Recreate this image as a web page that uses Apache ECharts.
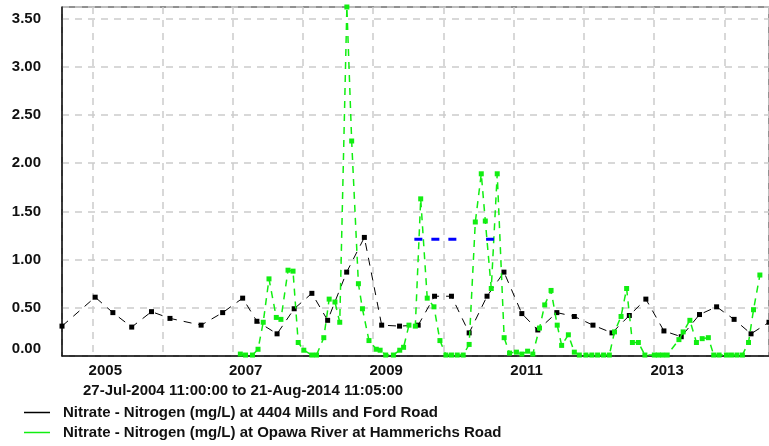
<!DOCTYPE html>
<html>
<head>
<meta charset="utf-8">
<script src="https://cdn.jsdelivr.net/npm/echarts@6/dist/echarts.min.js"></script>
<style>
  html, body { margin: 0; padding: 0; background: #fff; }
  #chart { width: 769px; height: 446px; }
</style>
</head>
<body>
<div id="chart"></div>
<script>
// 4404 Mills and Ford Road
const millsDates = [
  '2004-07-27 11:00:00', '2005-01-16', '2005-04-18', '2005-07-25', '2005-11-05',
  '2006-02-09', '2006-07-21', '2006-11-10', '2007-02-22', '2007-05-07',
  '2007-08-20', '2007-11-17', '2008-02-17', '2008-05-09', '2008-08-16',
  '2008-11-16', '2009-02-14', '2009-05-18', '2009-08-23', '2009-11-16',
  '2010-02-12', '2010-05-15', '2010-08-16', '2010-11-12', '2011-02-13',
  '2011-05-07', '2011-08-14', '2011-11-13', '2012-02-18', '2012-05-27',
  '2012-08-25', '2012-11-19', '2013-02-21', '2013-05-22', '2013-08-25',
  '2013-11-22', '2014-02-21', '2014-05-20', '2014-08-21 11:05:00'
]
const millsValues = [
  0.31, 0.61, 0.45, 0.30, 0.46,
  0.39, 0.32, 0.45, 0.60, 0.36,
  0.23, 0.49, 0.65, 0.37, 0.87,
  1.23, 0.32, 0.31, 0.32, 0.62,
  0.62, 0.24, 0.62, 0.87, 0.44,
  0.27, 0.45, 0.41, 0.32, 0.24,
  0.42, 0.59, 0.26, 0.20, 0.43,
  0.51, 0.38, 0.23, 0.35
]

// Opawa River at Hammerichs Road
const opawaDates = [
  '2007-02-10', '2007-03-09', '2007-04-14', '2007-05-13', '2007-06-09',
  '2007-07-09', '2007-08-16', '2007-09-09', '2007-10-16', '2007-11-11',
  '2007-12-08', '2008-01-06', '2008-02-17', '2008-03-12', '2008-04-19',
  '2008-05-17', '2008-06-16', '2008-07-11', '2008-08-17', '2008-09-11',
  '2008-10-16', '2008-11-06', '2008-12-10', '2009-01-17', '2009-02-06',
  '2009-03-07', '2009-04-16', '2009-05-19', '2009-06-08', '2009-07-06',
  '2009-08-08', '2009-09-05', '2009-10-09', '2009-11-13', '2009-12-14',
  '2010-01-14', '2010-02-12', '2010-03-14', '2010-04-14', '2010-05-15',
  '2010-06-16', '2010-07-17', '2010-08-07', '2010-09-07', '2010-10-08',
  '2010-11-13', '2010-12-11', '2011-01-16', '2011-02-13', '2011-03-15',
  '2011-04-11', '2011-05-16', '2011-06-12', '2011-07-15', '2011-08-16',
  '2011-09-08', '2011-10-13', '2011-11-13', '2011-12-09', '2012-01-12',
  '2012-02-12', '2012-03-13', '2012-04-13', '2012-05-13', '2012-06-09',
  '2012-07-13', '2012-08-11', '2012-09-10', '2012-10-11', '2012-11-14',
  '2013-01-02', '2013-01-23', '2013-02-14', '2013-03-10', '2013-05-10',
  '2013-06-01', '2013-07-06', '2013-08-09', '2013-09-08', '2013-10-10',
  '2013-11-07', '2013-12-05', '2014-01-12', '2014-02-07', '2014-03-08',
  '2014-04-05', '2014-05-07', '2014-06-02', '2014-07-05'
]
const opawaValues = [
  0.02, 0.01, 0.01, 0.07, 0.35,
  0.80, 0.40, 0.38, 0.89, 0.88,
  0.14, 0.06, 0.01, 0.01, 0.19,
  0.59, 0.56, 0.35, 3.62, 2.23,
  0.75, 0.49, 0.16, 0.07, 0.06,
  0.01, 0.01, 0.06, 0.09, 0.32,
  0.31, 1.63, 0.60, 0.51, 0.16,
  0.01, 0.01, 0.01, 0.01, 0.12,
  1.39, 1.89, 1.40, 0.70, 1.89,
  0.19, 0.03, 0.04, 0.02, 0.05,
  0.02, 0.29, 0.53, 0.68, 0.32,
  0.11, 0.22, 0.04, 0.01, 0.01,
  0.01, 0.01, 0.01, 0.01, 0.25,
  0.41, 0.70, 0.14, 0.14, 0.01,
  0.01, 0.01, 0.01, 0.01, 0.17,
  0.25, 0.37, 0.14, 0.18, 0.19,
  0.01, 0.01, 0.01, 0.01, 0.01,
  0.01, 0.14, 0.48, 0.84
]

// blue dashed guide line (null breaks the segment)
const guideDates = ['2009-08-03', '2010-03-11', '2010-05-01', '2010-08-11', '2010-09-21']
const guideValues = [1.21, 1.21, null, 1.21, 1.21]

const rangeStart = '2004-07-27 11:00:00'
const rangeEnd = '2014-08-21 11:05:00'
const rangeLabel = '27-Jul-2004 11:00:00 to 21-Aug-2014 11:05:00'
const seriesNames = [
  'Nitrate - Nitrogen (mg/L) at 4404 Mills and Ford Road',
  'Nitrate - Nitrogen (mg/L) at Opawa River at Hammerichs Road'
]

const FONT = '"Liberation Sans", Arial, sans-serif'
const YEAR_MS = 365 * 24 * 3600 * 1000

const zip = (xs, ys) => xs.map((x, i) => [x, ys[i]])

const chart = echarts.init(document.getElementById('chart'), null, { renderer: 'canvas' })

const option = {
  backgroundColor: '#fff',
  animation: false,
  grid: {
    left: 62,
    top: 7,
    right: -3,
    bottom: 90,
    show: true,
    borderColor: '#222',
    borderWidth: 1,
    backgroundColor: '#fff',
  },
  title: {
    text: rangeLabel,
    left: 78,
    top: 378,
    textStyle: { fontFamily: FONT, fontSize: 15, fontWeight: 'bold', color: '#111' },
  },
  legend: {
    orient: 'vertical',
    left: 24,
    top: 405,
    padding: 0,
    itemGap: 5,
    itemWidth: 26,
    itemHeight: 1.5,
    icon: 'rect',
    data: seriesNames,
    textStyle: { fontFamily: FONT, fontSize: 15, fontWeight: 'bold', color: '#111', padding: [0, 0, 0, 8] },
  },
  xAxis: {
    type: 'time',
    min: rangeStart,
    max: rangeEnd,
    minInterval: YEAR_MS,
    maxInterval: YEAR_MS + 24 * 3600 * 1000,
    axisLine: { lineStyle: { color: '#111', width: 1.5 } },
    axisTick: { show: false },
    axisLabel: {
      fontFamily: FONT,
      fontSize: 15,
      fontWeight: 'bold',
      color: '#111',
      margin: 7,
      padding: [0, 0, 0, 26],
      showMinLabel: false,
      showMaxLabel: false,
      formatter: v => {
        const y = new Date(v).getFullYear()
        return y % 2 === 1 ? String(y) : ''
      },
    },
    splitLine: { show: true, lineStyle: { color: '#cccccc', width: 1.5, type: [7, 6] } },
  },
  yAxis: {
    type: 'value',
    min: 0,
    max: 3.62,
    interval: 0.5,
    axisLine: { show: true, lineStyle: { color: '#111', width: 1.5 } },
    axisTick: { show: false },
    axisLabel: {
      fontFamily: FONT,
      fontSize: 15,
      fontWeight: 'bold',
      color: '#111',
      margin: 21,
      showMaxLabel: false,
      verticalAlignMinLabel: 'bottom',
      formatter: v => v.toFixed(2),
    },
    splitLine: { show: true, lineStyle: { color: '#cccccc', width: 1.5, type: [7, 6] } },
  },
  series: [
    {
      name: seriesNames[0],
      type: 'line',
      data: zip(millsDates, millsValues),
      symbol: 'rect',
      symbolSize: 5,
      showAllSymbol: true,
      itemStyle: { color: '#000' },
      lineStyle: { color: '#000', width: 1, type: [8, 7] },
      z: 3,
    },
    {
      name: seriesNames[1],
      type: 'line',
      data: zip(opawaDates, opawaValues),
      symbol: 'rect',
      symbolSize: 5,
      showAllSymbol: true,
      itemStyle: { color: '#11ee11' },
      lineStyle: { color: '#11ee11', width: 1.5, type: [7, 6] },
      z: 4,
    },
    {
      name: 'guide',
      type: 'line',
      data: zip(guideDates, guideValues),
      symbol: 'none',
      connectNulls: false,
      lineStyle: { color: '#0000ff', width: 3, type: [8, 9] },
      z: 5,
    },
  ],
}

chart.setOption(option)
</script>
</body>
</html>
